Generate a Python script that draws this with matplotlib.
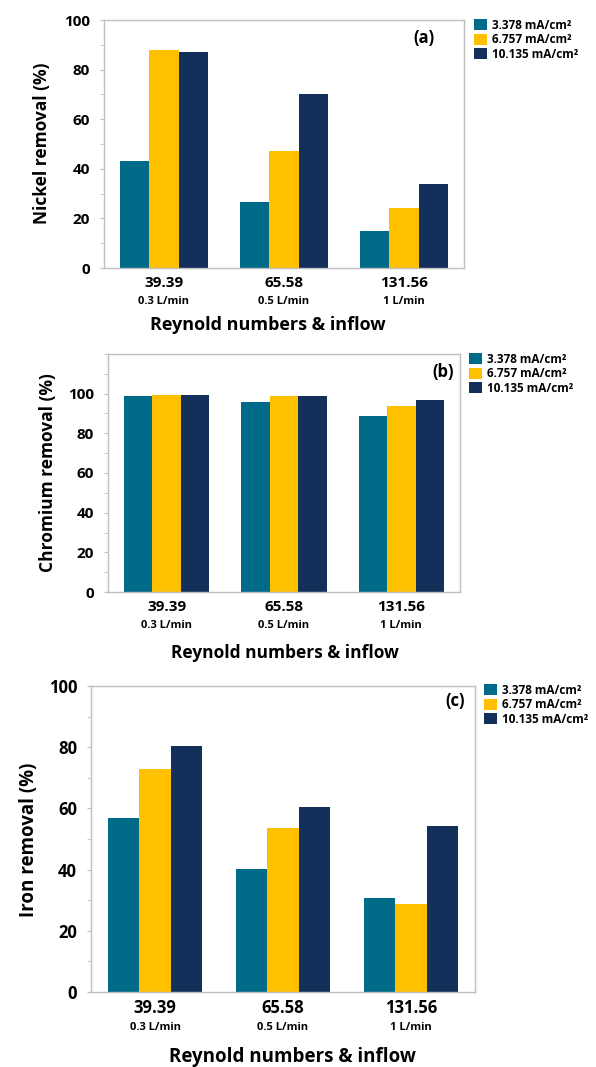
import numpy as np
import matplotlib.pyplot as plt
from matplotlib.ticker import MultipleLocator

plt.rcParams['font.family'] = ['Open Sans', 'DejaVu Sans']

reynolds = ["39.39", "65.58", "131.56"]
inflow = ["0.3 L/min", "0.5 L/min", "1 L/min"]
densites = ["3.378 mA/cm²", "6.757 mA/cm²", "10.135 mA/cm²"]
couleurs = ["#006A89", "#FFC000", "#13305A"]

# removal (%) per current density, for the three flow rates
nickel = [[43, 26.5, 15], [88, 47, 24], [87, 70, 34]]
chrome = [[98.6, 96, 88.7], [99.3, 98.8, 93.8], [99.3, 98.6, 96.8]]
fer = [[57, 40.2, 30.8], [72.9, 53.5, 28.9], [80.4, 60.3, 54.4]]

W, H = 596, 1067
fig = plt.figure(figsize=(W / 100, H / 100), dpi=100)


def px(x, y):
    return x / W, 1 - y / H


def panneau(rect, data, ylim, ylab, lettre, s_tick, s_ylab, s_xlab,
            ylab_pos, xlab_pos, leg_pos, off_num, off_inflow, lettre_pos):
    l, t, r, b = rect
    ax = fig.add_axes([l / W, 1 - b / H, (r - l) / W, (b - t) / H])
    x = np.arange(len(reynolds))
    w = 0.243
    for k, serie in enumerate(data):
        ax.bar(x + (k - 1) * w, serie, w, color=couleurs[k], label=densites[k],
               edgecolor='none')
    ax.set_xlim(-0.5, 2.5)
    ax.set_ylim(*ylim)
    ax.set_yticks(np.arange(0, 101, 20))
    ax.yaxis.set_minor_locator(MultipleLocator(10))
    ax.tick_params(axis='y', which='both', colors='#BFBFBF', length=3,
                   labelcolor='black', labelsize=s_tick, pad=7)
    for lab in ax.get_yticklabels():
        lab.set_fontweight('bold')
    ax.set_xticks([])
    for sp in ax.spines.values():
        sp.set_color('#BFBFBF')
        sp.set_linewidth(1.0)

    for i in x:
        ax.annotate(reynolds[i], (i, 0), xycoords=('data', 'axes fraction'),
                    xytext=(0, -off_num * 0.72), textcoords='offset points',
                    ha='center', va='center', fontsize=s_tick, fontweight='bold')
        ax.annotate(inflow[i], (i, 0), xycoords=('data', 'axes fraction'),
                    xytext=(0, -off_inflow * 0.72), textcoords='offset points',
                    ha='center', va='center', fontsize=8, fontweight='bold')

    ax.text(*px(*lettre_pos), lettre, transform=fig.transFigure, ha='center',
            va='center', fontsize=12, fontweight='bold')
    fig.text(*px(*ylab_pos), ylab, rotation=90, ha='center', va='center',
             fontsize=s_ylab, fontweight='bold')
    fig.text(*px(*xlab_pos), "Reynold numbers & inflow", ha='center',
             va='center', fontsize=s_xlab, fontweight='bold')
    ax.legend(loc='upper left', bbox_to_anchor=px(*leg_pos),
              bbox_transform=fig.transFigure, frameon=False,
              prop={'size': 8.5, 'weight': 'bold'}, handlelength=1.1,
              handleheight=1.05, handletextpad=0.45, labelspacing=0.12,
              borderpad=0, borderaxespad=0)
    return ax


panneau((104, 20, 464, 268), nickel, (0, 100), "Nickel removal (%)", "(a)",
        11, 12.5, 13, (42, 143), (268, 325), (474, 19), 15, 33, (424, 38))
panneau((108, 354, 460, 592), chrome, (0, 120), "Chromium removal (%)", "(b)",
        11, 12.5, 12.5, (48, 473), (285, 653), (469, 353), 15, 33, (443, 372))
panneau((91, 686, 475, 992), fer, (0, 100), "Iron removal (%)", "(c)",
        12, 13.5, 13.5, (29, 840), (292, 1057), (484, 684), 16, 36, (455, 701))

fig.savefig("out.png", dpi=100)
